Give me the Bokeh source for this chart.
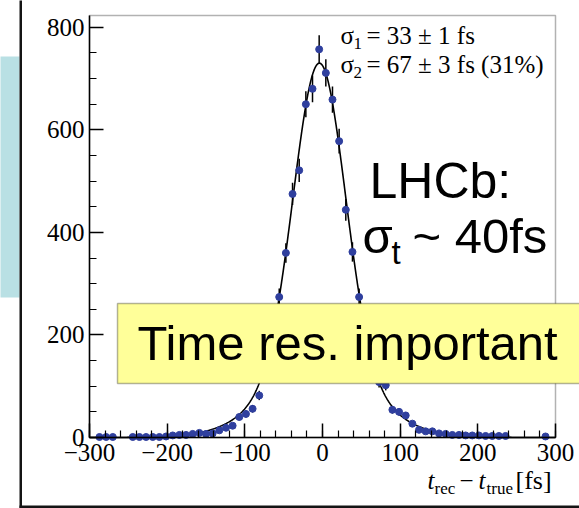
import numpy as np
from bokeh.plotting import figure
from bokeh.models import ColumnDataSource, FixedTicker, Label, BoxAnnotation, Range1d
from bokeh.embed import file_html
from bokeh.resources import INLINE

# ---------------- data ----------------
hist_lo = -300.0
hist_hi = 300.0
n_bins = 70
counts = [0, 1, 1, 1, 0, 0, 1, 1, 1, 1,
          1, 2, 4, 5, 5, 7, 9, 7, 8, 14,
          19, 23, 40, 46, 56, 82, 145, 200, 274, 360,
          475, 521, 650, 680, 757, 711, 659, 578, 444, 362,
          274, 205, 150, 108, 102, 54, 50, 43, 27, 15,
          12, 12, 8, 7, 5, 5, 4, 4, 4, 3,
          3, 3, 3, 0, 0, 0, 0, 0, 2, 0]
# double-Gaussian fit shown on the chart
fit_peak = 730.0
fit_mean = -4.0
sigma1 = 33.0
sigma2 = 67.0
frac2 = 0.31

x_ticks = [-300, -200, -100, 0, 100, 200, 300]
x_tick_labels = ["\u2212300", "\u2212200", "\u2212100", "0", "100", "200", "300"]
y_ticks = [0, 200, 400, 600, 800]
y_tick_labels = ["0", "200", "400", "600", "800"]

# ---------------- derived ----------------
edges = np.linspace(hist_lo, hist_hi, n_bins + 1)
centers = 0.5 * (edges[:-1] + edges[1:])
cnt = np.array(counts, dtype=float)
mask = cnt > 0
err = np.sqrt(cnt)
pts = ColumnDataSource(dict(x=centers[mask], y=cnt[mask],
                            lo=(cnt - err)[mask], hi=(cnt + err)[mask]))

tt = np.linspace(hist_lo, hist_hi, 1201)
a1 = (1 - frac2) / sigma1
a2 = frac2 / sigma2
fit = fit_peak * (a1 * np.exp(-(tt - fit_mean) ** 2 / (2 * sigma1 ** 2)) +
                  a2 * np.exp(-(tt - fit_mean) ** 2 / (2 * sigma2 ** 2))) / (a1 + a2)

# ---------------- layout: frame covers the whole canvas ----------------
W, H = 579, 508
Y_TOP = 823.0
SX = 466.0 / 600.0          # px per fs
SY = 422.0 / Y_TOP          # px per entry
def dx(px):
    return (px - 322.0) / SX
def dy(py):
    return (437.0 - py) / SY

p = figure(width=W, height=H, output_backend="svg", toolbar_location=None,
           x_range=Range1d(dx(0), dx(W)), y_range=Range1d(dy(H), dy(0)),
           min_border=0)
p.grid.visible = False
p.background_fill_color = "white"
p.border_fill_color = "white"
p.outline_line_color = None

p.xaxis.fixed_location = 0
p.xaxis.bounds = (hist_lo, hist_hi)
p.yaxis.fixed_location = hist_lo
p.yaxis.bounds = (0, Y_TOP)
p.xaxis.ticker = FixedTicker(ticks=x_ticks, minor_ticks=list(range(-300, 301, 20)))
p.yaxis.ticker = FixedTicker(ticks=y_ticks, minor_ticks=list(range(0, 801, 50)))
p.xaxis.major_label_overrides = {t: l for t, l in zip(x_ticks, x_tick_labels)}
p.yaxis.major_label_overrides = {t: l for t, l in zip(y_ticks, y_tick_labels)}
for ax in (p.xaxis, p.yaxis):
    ax.axis_line_width = 1.5
    ax.axis_line_color = "black"
    ax.major_tick_in = 14
    ax.major_tick_out = 0
    ax.minor_tick_in = 7
    ax.minor_tick_out = 0
    ax.major_tick_line_width = 1.5
    ax.minor_tick_line_width = 1.2
    ax.major_tick_line_color = "black"
    ax.minor_tick_line_color = "black"
    ax.major_label_text_font = "Liberation Serif"
    ax.major_label_text_font_size = "25px"
    ax.major_label_text_color = "black"
p.xaxis.major_label_standoff = 6
p.yaxis.major_label_standoff = 5

# plot frame (top / right edges)
p.add_layout(BoxAnnotation(left=hist_lo, right=hist_hi, bottom=0, top=Y_TOP,
                           fill_color=None, fill_alpha=0, line_color="black",
                           line_width=1.5))

p.line(tt, fit, line_color="black", line_width=1.6)
p.segment(x0="x", x1="x", y0="lo", y1="hi", source=pts, line_color="black", line_width=1.5)
p.scatter("x", "y", source=pts, size=7, fill_color="#2f3f9e", line_color="#2f3f9e")

# ---------------- slide decorations ----------------
p.add_layout(BoxAnnotation(left=dx(-10), right=dx(19), top=dy(56), bottom=dy(297),
                           fill_color="#b9e0e4", fill_alpha=1, line_alpha=0))
p.add_layout(BoxAnnotation(left=dx(19), right=dx(21.5), top=dy(-10), bottom=dy(520),
                           fill_color="#141414", fill_alpha=1, line_alpha=0))
p.add_layout(BoxAnnotation(left=dx(19), right=dx(600), top=dy(505), bottom=dy(507.5),
                           fill_color="#141414", fill_alpha=1, line_alpha=0))
p.add_layout(BoxAnnotation(left=dx(117), right=dx(600), top=dy(303), bottom=dy(383),
                           fill_color="#ffff99", fill_alpha=1, line_color="black",
                           line_width=1.5, level="overlay"))

BASE_SHIFT = 0.39   # label anchor sits this many em above the drawn baseline

def lab(text, px, py, font, size, style="normal"):
    p.add_layout(Label(x=dx(px), y=dy(py - BASE_SHIFT * size), text=text,
                       text_font=font, text_font_size=f"{size}px",
                       text_font_style=style, text_color="black",
                       text_align="left", text_baseline="alphabetic",
                       level="overlay"))

serif = "Liberation Serif"
sans = "Liberation Sans"
# fit legend
lab("\u03c3", 340, 45, serif, 25)
lab("1", 353, 50, serif, 17)
lab("= 33 \u00b1 1 fs", 366, 45, serif, 25)
lab("\u03c3", 340, 74, serif, 25)
lab("2", 353, 79, serif, 17)
lab("= 67 \u00b1 3 fs (31%)", 366, 74, serif, 25)
# big slide texts
lab("LHCb:", 369, 200, sans, 50)
lab("\u03c3", 362, 255, sans, 49)
lab("t", 391, 265, sans, 33)
lab("~ 40fs", 412, 255, sans, 49)
lab("Time res. important", 137, 362, sans, 49)
# x-axis title
lab("t", 427, 490, serif, 25, "italic")
lab("rec", 434, 495, serif, 17)
lab("\u2212", 459, 490, serif, 25)
lab("t", 478, 490, serif, 25, "italic")
lab("true", 486, 495, serif, 17)
lab("[fs]", 515, 490, serif, 26)

open("out.html", "w").write(file_html(p, INLINE))
